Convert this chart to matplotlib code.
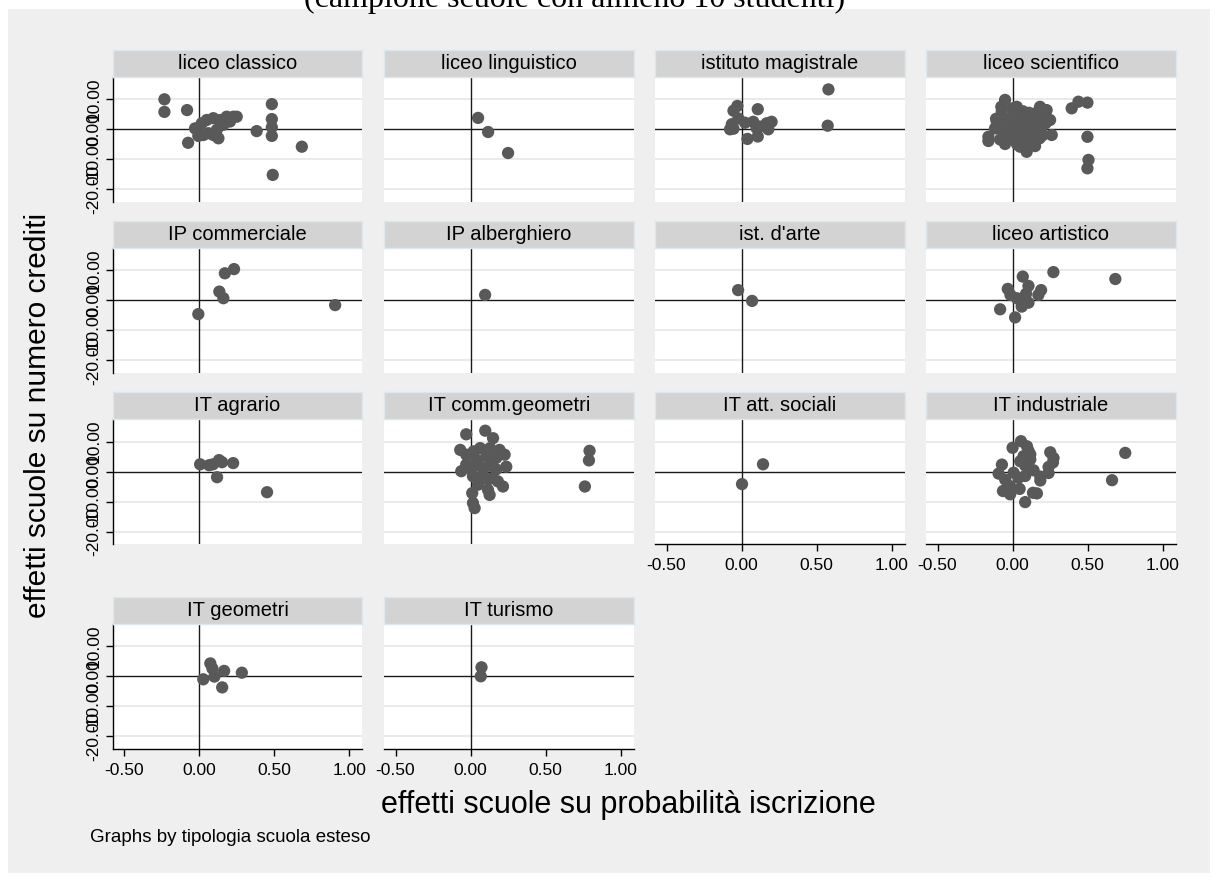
import numpy as np
import matplotlib.pyplot as plt
from matplotlib.patches import Rectangle

# panel titles, in reading order (4 per row)
panel_names = ['liceo classico', 'liceo linguistico', 'istituto magistrale', 'liceo scientifico',
               'IP commerciale', 'IP alberghiero', "ist. d'arte", 'liceo artistico',
               'IT agrario', 'IT comm.geometri', 'IT att. sociali', 'IT industriale',
               'IT geometri', 'IT turismo']

ytick_vals = [-20, -10, 0, 10]
ytick_labels = ['-20.00', '-10.00', '0.00', '10.00']
xtick_vals = [-0.5, 0.0, 0.5, 1.0]
xtick_labels = ['-0.50', '0.00', '0.50', '1.00']

# x = effetti su probabilita iscrizione, y = effetti su numero crediti
classico_x = [-0.233, -0.233, -0.082, -0.075, -0.029, -0.007, 0.016, 0.049, 0.093, 0.138, 0.182,
              0.227, 0.249, 0.116, 0.127, 0.093, 0.027, 0.06, 0.16, 0.204, 0.382, 0.483, 0.483,
              0.483, 0.483, 0.683, 0.489]
classico_y = [10.0, 5.8, 6.4, -4.5, 0.3, -2.2, 2.0, 3.1, 3.7, 3.1, 4.2,
              4.2, 4.2, -0.2, -3.0, -1.9, -1.9, -1.3, 1.5, 2.6, -0.6, 8.4, 3.4,
              0.7, -2.2, -5.8, -15.2]

linguistico_x = [0.05, 0.117, 0.25]
linguistico_y = [3.8, -0.9, -7.9]

magistrale_x = [0.579, 0.574, 0.108, -0.028, -0.054, -0.021, 0.023, 0.078, -0.065, -0.077,
                -0.054, 0.1, 0.039, 0.108, 0.178, 0.2, 0.167, 0.122]
magistrale_y = [13.3, 1.2, 6.7, 7.8, 6.2, 3.6, 2.2, 2.5, 1.7, 0.0,
                0.2, 0.4, -3.2, -2.4, 0.0, 2.5, 2.0, 0.9]

scientifico_x = [-0.05, -0.075, -0.072, 0.028, 0.183, 0.227, -0.105, -0.117, -0.161, -0.161,
                 -0.083, -0.05, 0.05, 0.094, 0.15, 0.261, 0.25, 0.394, 0.439, 0.499,
                 0.499, 0.506, 0.499,
                 0.0, 0.02, 0.04, 0.06, 0.08, 0.10, 0.12, 0.14, 0.16, 0.18,
                 0.20, -0.02, -0.04, 0.01, 0.03, 0.05, 0.07, 0.09, 0.11, 0.13,
                 0.15, 0.17, 0.19, 0.21, -0.03, 0.0, 0.02, 0.05, 0.08, 0.11,
                 0.14, 0.17, 0.2, 0.06, 0.1, 0.12, -0.06, -0.01, 0.04, 0.09,
                 0.13, 0.16, 0.03, 0.07, -0.09, -0.11, 0.22, 0.0, 0.08]
scientifico_y = [9.8, 7.5, 5.9, 7.5, 7.5, 6.4, 2.5, 0.3, -2.5, -3.9,
                 -3.4, -4.9, -5.8, -7.5, -5.6, -1.9, 3.1, 7.0, 9.2, 8.9,
                 -2.5, -10.2, -13.0,
                 4.0, 1.5, -2.0, 5.5, 0.5, 3.0, -1.0, 5.0, 2.0, -3.0,
                 4.5, -1.5, 1.0, 6.5, -4.0, 2.5, -0.5, 4.0, 1.0, -4.5,
                 -1.5, 3.5, 0.0, 2.5, 3.5, -3.0, 2.5, -1.0, 3.0, 5.5,
                 0.5, 1.5, -2.0, -3.5, -2.5, 2.0, -1.0, 0.5, 4.5, -5.0,
                 -3.0, 5.5, -5.0, 6.0, 0.5, 3.5, 2.0, 7.0, -5.5]

commerciale_x = [-0.007, 0.133, 0.16, 0.17, 0.231, 0.905]
commerciale_y = [-4.6, 2.9, 0.7, 9.0, 10.4, -1.6]

alberghiero_x = [0.097]
alberghiero_y = [1.8]

arte_x = [-0.023, 0.07]
arte_y = [3.4, -0.2]

artistico_x = [0.272, 0.685, 0.068, -0.032, 0.106, 0.19, 0.172, -0.014, 0.028, 0.09,
               0.072, 0.106, 0.061, -0.083, 0.017, 0.05]
artistico_y = [9.4, 7.1, 7.9, 3.8, 4.8, 3.4, 1.8, 1.8, 0.7, 2.2,
               -0.5, -0.8, -2.1, -3.0, -5.7, 0.1]

agrario_x = [0.005, 0.065, 0.091, 0.131, 0.151, 0.118, 0.225, 0.451]
agrario_y = [2.4, 2.1, 2.4, 3.8, 3.1, -1.9, 2.8, -6.9]

commgeom_x = [-0.029, 0.098, 0.15, -0.069, -0.029, 0.02, 0.064, 0.13, 0.193, 0.227,
              0.171, 0.105, 0.038, -0.029, -0.062, 0.004, 0.06, 0.127, 0.238, 0.171,
              0.016, 0.082, 0.149, 0.216, 0.182, 0.049, 0.116, 0.127, 0.011, 0.016,
              0.027, 0.116, 0.793, 0.789, 0.762]
commgeom_y = [12.4, 13.6, 11.1, 7.2, 5.6, 6.7, 7.8, 7.8, 7.2, 5.6,
              4.5, 5.1, 4.0, 2.3, 0.1, 0.7, 1.9, 1.9, 1.6, 0.7,
              -1.6, -1.1, -2.2, -5.0, -3.3, -4.4, -6.1, -7.8, -7.2, -10.5,
              -12.2, -2.7, 6.9, 3.7, -5.0]

sociali_x = [0.003, 0.143]
sociali_y = [-4.2, 2.4]

industriale_x = [0.056, 0.0, 0.751, 0.663, 0.107, 0.073, 0.118, 0.051, 0.251, 0.273,
                 0.269, 0.24, 0.24, 0.185, 0.185, 0.14, 0.084, 0.084, 0.04, -0.071,
                 -0.093, -0.049, -0.016, -0.064, -0.016, 0.047, 0.136, 0.162, 0.084, 0.007,
                 0.118, 0.096]
industriale_y = [10.1, 7.9, 6.2, -2.9, 6.8, 5.1, 4.0, 3.4, 6.4, 4.5,
                 3.0, 1.5, -0.5, -1.7, -3.0, 0.4, 2.0, -1.5, -2.1, 2.3,
                 -0.7, -2.7, -4.9, -6.5, -7.6, -5.8, -7.1, -7.3, -10.2, -0.4,
                 5.7, 8.4]

geometri_x = [0.073, 0.087, 0.165, 0.283, 0.026, 0.1, 0.152]
geometri_y = [4.3, 2.6, 1.8, 1.2, -1.0, -0.1, -3.7]

turismo_x = [0.073, 0.068]
turismo_y = [3.0, 0.0]

panel_data = [(classico_x, classico_y), (linguistico_x, linguistico_y),
              (magistrale_x, magistrale_y), (scientifico_x, scientifico_y),
              (commerciale_x, commerciale_y), (alberghiero_x, alberghiero_y),
              (arte_x, arte_y), (artistico_x, artistico_y),
              (agrario_x, agrario_y), (commgeom_x, commgeom_y),
              (sociali_x, sociali_y), (industriale_x, industriale_y),
              (geometri_x, geometri_y), (turismo_x, turismo_y)]

W, H = 1217, 882
plt.rcParams['font.family'] = ['Liberation Sans', 'DejaVu Sans']
fig = plt.figure(figsize=(W / 100, H / 100), dpi=100)
fig.patch.set_facecolor('white')

# gray graph region (behind the panels)
bg = Rectangle((8 / W, 1 - 873 / H), 1202 / W, 864 / H, transform=fig.transFigure,
               facecolor='#efefef', edgecolor='none', zorder=-10)
fig.patches.append(bg)

def box(left, top, w, h):
    return [left / W, 1 - (top + h) / H, w / W, h / H]

col_left = [112.8, 384.0, 655.0, 926.0]
row_top = [77.1, 248.1, 419.3, 624.1]
pw, ph, sh = 249.5, 124.8, 27
marker_col = '#595959'

for i, name in enumerate(panel_names):
    r, c = divmod(i, 4)
    xs, ys = panel_data[i]
    ax = fig.add_axes(box(col_left[c], row_top[r], pw, ph))
    ax.set_facecolor('white')
    ax.set_xlim(-0.577, 1.086)
    ax.set_ylim(-24.2, 17.4)
    for v in ytick_vals:
        if v != 0:
            ax.axhline(v, color='#e6e6e6', lw=1.2, zorder=1)
    ax.axhline(0, color='#1a1a1a', lw=1.0, zorder=2)
    ax.axvline(0, color='#1a1a1a', lw=1.0, zorder=2)
    ax.scatter(xs, ys, s=78, color=marker_col, edgecolors='none', zorder=3)
    for sp in ax.spines.values():
        sp.set_visible(False)
    ax.set_yticks(ytick_vals)
    ax.set_xticks(xtick_vals)
    show_x = (r == 3) or (r == 2 and c >= 2)
    if c == 0:
        ax.spines['left'].set_visible(True)
        ax.spines['left'].set_linewidth(1.0)
        ax.set_yticklabels(ytick_labels, rotation=90, va='center', fontsize=12.5)
        ax.tick_params(axis='y', length=5, width=1, pad=3)
    else:
        ax.tick_params(axis='y', left=False, labelleft=False)
    if show_x:
        ax.spines['bottom'].set_visible(True)
        ax.spines['bottom'].set_linewidth(1.0)
        ax.set_xticklabels(xtick_labels, fontsize=12.5)
        ax.tick_params(axis='x', length=5, width=1, pad=5)
    else:
        ax.tick_params(axis='x', bottom=False, labelbottom=False)

    sax = fig.add_axes(box(col_left[c], row_top[r] - sh, pw, sh))
    sax.set_facecolor('#d3d3d3')
    sax.set_xticks([])
    sax.set_yticks([])
    for sp in sax.spines.values():
        sp.set_color('#dde8ee')
        sp.set_linewidth(1.0)
    sax.text(0.5, 0.5, name, ha='center', va='center', fontsize=14.5, transform=sax.transAxes)

fig.text(575 / W, 1 - 7 / H, '(campione scuole con almeno 10 studenti)', ha='center',
         va='baseline', fontsize=23, family=['Liberation Serif', 'DejaVu Serif'])
fig.text(628 / W, 1 - 805 / H, 'effetti scuole su probabilità iscrizione', ha='center',
         va='center', fontsize=22)
fig.text(38 / W, 1 - 415 / H, 'effetti scuole su numero crediti', ha='center',
         va='center', rotation=90, fontsize=21.5)
fig.text(90 / W, 1 - 838 / H, 'Graphs by tipologia scuola esteso', ha='left',
         va='center', fontsize=13.5)

fig.savefig('out.png', dpi=100)
